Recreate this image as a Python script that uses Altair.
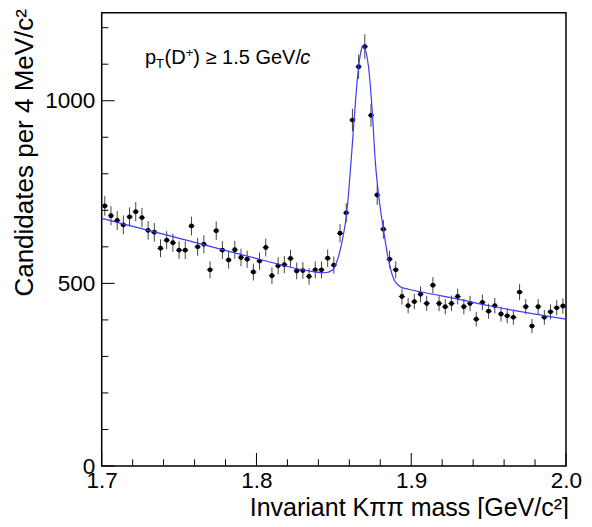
import altair as alt
import pandas as pd

# ---- data ----
counts = [712, 685, 672, 660, 682, 696, 680, 645, 640, 596,
          618, 611, 591, 591, 657, 600, 607, 537, 644, 591,
          564, 592, 571, 566, 531, 561, 598, 521, 548, 551,
          568, 534, 535, 519, 537, 537, 569, 550, 637, 693,
          947, 1093, 1148, 960, 742, 648, 566, 537, 464, 439,
          450, 470, 445, 495, 445, 436, 445, 464, 436, 445,
          402, 448, 424, 439, 416, 411, 407, 476, 436, 383,
          436, 407, 422, 433, 438]
bin_width = 0.004
mass = [round(1.7 + bin_width * (i + 0.5), 4) for i in range(len(counts))]

fit_mass = [1.700, 1.746, 1.802, 1.830, 1.8444, 1.8487, 1.8519, 1.8551, 1.8584,
            1.8612, 1.864, 1.866, 1.8675, 1.8691, 1.8707, 1.8724, 1.875, 1.8767,
            1.8788, 1.8821, 1.8853, 1.8885, 1.8929, 1.8982, 1.9083, 1.930, 1.9512, 2.000]
fit_val = [678, 628, 566, 537, 529, 535, 559, 610, 696,
           838, 1000, 1093, 1135, 1152, 1135, 1093, 958, 838,
           746, 646, 564, 514, 491, 484, 475, 457, 438, 402]

x_major = [1.7, 1.8, 1.9, 2.0]
x_minor = [1.72, 1.74, 1.76, 1.78, 1.82, 1.84, 1.86, 1.88, 1.92, 1.94, 1.96, 1.98]
y_major = [0, 500, 1000]
y_minor = [100, 200, 300, 400, 600, 700, 800, 900, 1100, 1200]

FONT = "Liberation Sans"
W, H = 464.3, 453.3
xs = alt.Scale(domain=[1.7, 2.0], nice=False, zero=False)
ys = alt.Scale(domain=[0, 1241], nice=False)

xaxis = alt.Axis(values=x_major, format=".1f", ticks=False, tickSize=0, domain=False,
                 grid=False, labelFont=FONT, labelFontSize=22.5, labelPadding=3,
                 labelColor="black", labelFlush=False,
                 title="Invariant Kππ mass [GeV/c²]", titleFont=FONT, titleFontSize=25,
                 titleFontWeight="normal", titleColor="black", titleX=466.8, titleY=49,
                 titleAlign="right", titleBaseline="alphabetic")
yaxis = alt.Axis(values=y_major, format="d", ticks=False, tickSize=0, domain=False,
                 grid=False, labelFont=FONT, labelFontSize=22.5, labelPadding=7,
                 labelColor="black", labelFlush=False,
                 title="Candidates per 4 MeV/c²", titleFont=FONT, titleFontSize=26,
                 titleFontWeight="normal", titleColor="black", titleX=-69, titleY=-4.2,
                 titleAngle=270, titleAlign="right", titleBaseline="alphabetic")

def X(f):
    return alt.X(f, scale=xs, axis=xaxis)

def Y(f):
    return alt.Y(f, scale=ys, axis=yaxis)

df = pd.DataFrame({"mass": mass, "n": counts})
base = alt.Chart(df).transform_calculate(
    lo="datum.n - sqrt(datum.n)", hi="datum.n + sqrt(datum.n)",
    xl=f"datum.mass - {bin_width / 2}", xr=f"datum.mass + {bin_width / 2}")

err_v = base.mark_rule(color="#444", strokeWidth=1).encode(
    x=X("mass:Q"), y=Y("lo:Q"), y2="hi:Q")
err_h = base.mark_rule(color="#222", strokeWidth=1).encode(
    x=X("xl:Q"), x2="xr:Q", y=Y("n:Q"))
pts = base.mark_point(filled=True, shape="circle", size=24, color="black", opacity=1).encode(
    x=X("mass:Q"), y=Y("n:Q"))

fit = alt.Chart(pd.DataFrame({"m": fit_mass, "v": fit_val})).mark_line(
    color="#3a3aff", strokeWidth=1.2, interpolate="monotone").encode(
    x=X("m:Q"), y=Y("v:Q"))

def xticks(vals, length):
    return alt.Chart(pd.DataFrame({"v": vals})).mark_rule(color="black", strokeWidth=1).encode(
        x=X("v:Q"), y=alt.value(H), y2=alt.value(H - length))

def yticks(vals, length):
    return alt.Chart(pd.DataFrame({"v": vals})).mark_rule(color="black", strokeWidth=1).encode(
        y=Y("v:Q"), x=alt.value(0), x2=alt.value(length))

one = alt.Data(values=[{}])
def txt(s, x, y, size=20, style="normal"):
    return alt.Chart(one).mark_text(text=s, x=x, y=y, fontSize=size, font=FONT,
                                    fontStyle=style, align="left", baseline="alphabetic",
                                    color="black")

by = 51.3
ann = [txt("p", 43.3, by), txt("T", 54.4, by + 4, 13), txt("(D", 62.8, by),
       txt("+", 84.0, by - 7, 13), txt(") ≥ 1.5 GeV/", 91.6, by),
       txt("c", 198.6, by, 20, "italic")]

chart = alt.layer(err_v, err_h, pts, fit,
                  xticks(x_major, 13), xticks(x_minor, 6.7),
                  yticks(y_major, 13), yticks(y_minor, 6.7), *ann).properties(
    width=W, height=H, padding={"left": 93.7, "top": 4.7, "right": 18, "bottom": 53},
    autosize=alt.AutoSizeParams(type="none"), background="white"
).configure_view(stroke="black", strokeWidth=1.5)

chart.save("out.html", embed_options={"renderer": "svg", "actions": False})
